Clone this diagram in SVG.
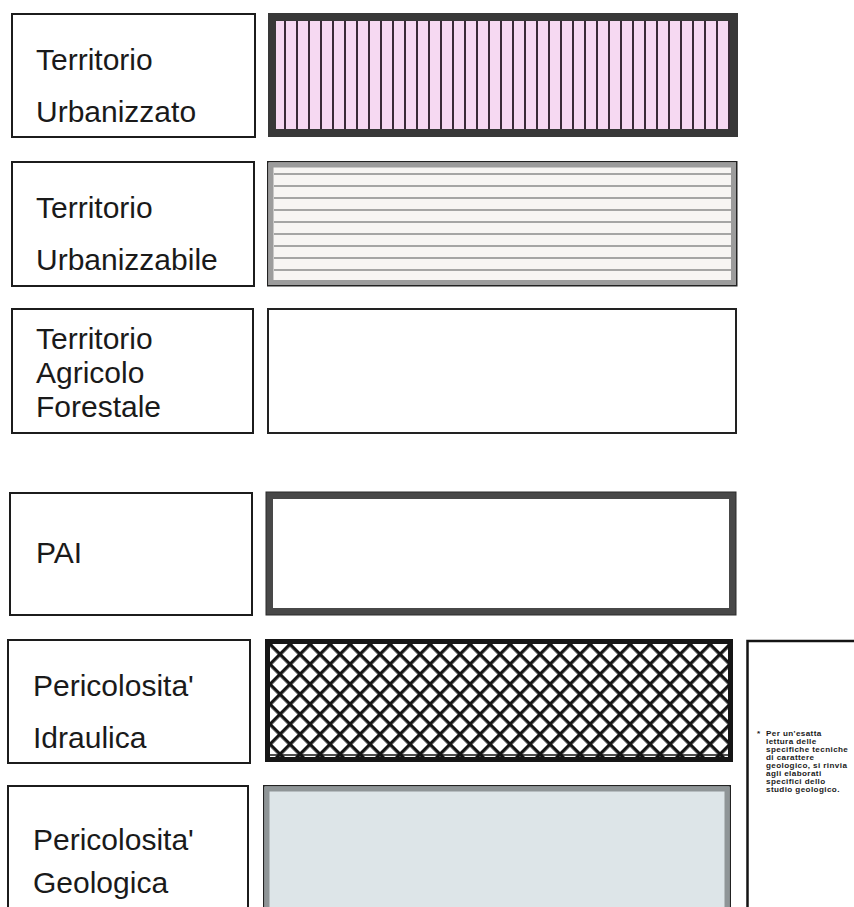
<svg xmlns="http://www.w3.org/2000/svg" width="854" height="907" viewBox="0 0 854 907">
  <style>
    .lbl { fill: #ffffff; stroke: #1c1c1c; stroke-width: 2; }
    .t { font-family: "Liberation Sans", Arial, sans-serif; font-size: 30px; fill: #1a1a1a; }
    .note { font-family: "Liberation Sans", Arial, sans-serif; font-size: 8.1px; font-weight: bold; fill: #1a1a1a; letter-spacing: 0.4px; }
  </style>
  <defs>
    <pattern id="vlines" patternUnits="userSpaceOnUse" x="279" y="0" width="12" height="20">
      <rect x="0" y="0" width="12" height="20" fill="#f6d9f2"/>
      <rect x="5" y="0" width="2" height="20" fill="#3a2b38"/>
    </pattern>
    <pattern id="xhatch" patternUnits="userSpaceOnUse" width="14.142" height="14.142" patternTransform="translate(270 642) rotate(45)">
      <rect x="0" y="0" width="14.142" height="14.142" fill="#ffffff"/>
      <rect x="0" y="0" width="14.142" height="3.3" fill="#141414"/>
      <rect x="0" y="0" width="3.3" height="14.142" fill="#141414"/>
    </pattern>
  </defs>
  <rect width="854" height="907" fill="#ffffff"/>

  <g id="connectors"/>

  <!-- Territorio Urbanizzato -->
  <g id="label-urbanizzato">
    <rect class="lbl" x="12" y="14" width="243" height="123"/>
    <text class="t" x="36" y="70">Territorio</text>
    <text class="t" x="36" y="122">Urbanizzato</text>
  </g>
  <g id="swatch-urbanizzato">
    <rect x="276" y="21" width="454" height="108" fill="url(#vlines)"/>
    <rect x="272" y="17" width="462" height="116" fill="none" stroke="#383838" stroke-width="8"/>
  </g>

  <!-- Territorio Urbanizzabile -->
  <g id="label-urbanizzabile">
    <rect class="lbl" x="12" y="162" width="242" height="124"/>
    <text class="t" x="36" y="218">Territorio</text>
    <text class="t" x="36" y="270">Urbanizzabile</text>
  </g>
  <g id="swatch-urbanizzabile">
    <rect x="267.75" y="161.75" width="469" height="124" fill="#f7f5f3" stroke="#222222" stroke-width="1.5"/>
    <rect x="271" y="165" width="462.5" height="117.5" fill="none" stroke="#9c9c9c" stroke-width="5"/>
    <g stroke="#8a8a8a" stroke-width="1.6">
      <line x1="274" y1="174" x2="731" y2="174"/>
      <line x1="274" y1="186" x2="731" y2="186"/>
      <line x1="274" y1="198" x2="731" y2="198"/>
      <line x1="274" y1="210" x2="731" y2="210"/>
      <line x1="274" y1="222" x2="731" y2="222"/>
      <line x1="274" y1="234" x2="731" y2="234"/>
      <line x1="274" y1="246" x2="731" y2="246"/>
      <line x1="274" y1="258" x2="731" y2="258"/>
      <line x1="274" y1="270" x2="731" y2="270"/>
    </g>
  </g>

  <!-- Territorio Agricolo Forestale -->
  <g id="label-agricolo">
    <rect class="lbl" x="12" y="309" width="241" height="124"/>
    <text class="t" x="36" y="349">Territorio</text>
    <text class="t" x="36" y="383">Agricolo</text>
    <text class="t" x="36" y="417">Forestale</text>
  </g>
  <g id="swatch-agricolo">
    <rect x="268" y="309" width="468" height="124" fill="#ffffff" stroke="#222222" stroke-width="2"/>
  </g>

  <!-- PAI -->
  <g id="label-pai">
    <rect class="lbl" x="10" y="493" width="242" height="122"/>
    <text class="t" x="36" y="563">PAI</text>
  </g>
  <g id="swatch-pai">
    <rect x="269.5" y="495.5" width="463" height="116" fill="#ffffff" stroke="#484848" stroke-width="7"/>
    <rect x="266" y="492" width="470" height="123" fill="none" stroke="#2a2a2a" stroke-width="1"/>
  </g>

  <!-- Pericolosita' Idraulica -->
  <g id="label-idraulica">
    <rect class="lbl" x="8" y="640" width="242" height="123"/>
    <text class="t" x="33" y="696">Pericolosita'</text>
    <text class="t" x="33" y="748">Idraulica</text>
  </g>
  <g id="swatch-idraulica">
    <rect x="267.5" y="641.5" width="463" height="118" fill="url(#xhatch)" stroke="#161616" stroke-width="5"/>
    <line x1="267" y1="755" x2="731" y2="755" stroke="#161616" stroke-width="1.5"/>
  </g>

  <!-- Pericolosita' Geologica -->
  <g id="label-geologica">
    <rect class="lbl" x="8" y="786" width="240" height="140"/>
    <text class="t" x="33" y="850">Pericolosita'</text>
    <text class="t" x="33" y="893">Geologica</text>
  </g>
  <g id="swatch-geologica">
    <rect x="263.75" y="785.75" width="466.5" height="140" fill="#dde5e8" stroke="#222222" stroke-width="1.5"/>
    <rect x="267" y="789" width="460" height="140" fill="none" stroke="#8f9597" stroke-width="5"/>
  </g>

  <!-- Note -->
  <g id="note">
    <rect x="747.5" y="641" width="120" height="300" fill="#ffffff" stroke="#141414" stroke-width="2.5"/>
    <text class="note" x="757" y="736">*</text>
    <text class="note" x="766" y="736">Per un'esatta</text>
    <text class="note" x="766" y="744">lettura delle</text>
    <text class="note" x="766" y="752">specifiche tecniche</text>
    <text class="note" x="766" y="760">di carattere</text>
    <text class="note" x="766" y="768">geologico, si rinvia</text>
    <text class="note" x="766" y="776">agli elaborati</text>
    <text class="note" x="766" y="784">specifici dello</text>
    <text class="note" x="766" y="792">studio geologico.</text>
  </g>
</svg>
